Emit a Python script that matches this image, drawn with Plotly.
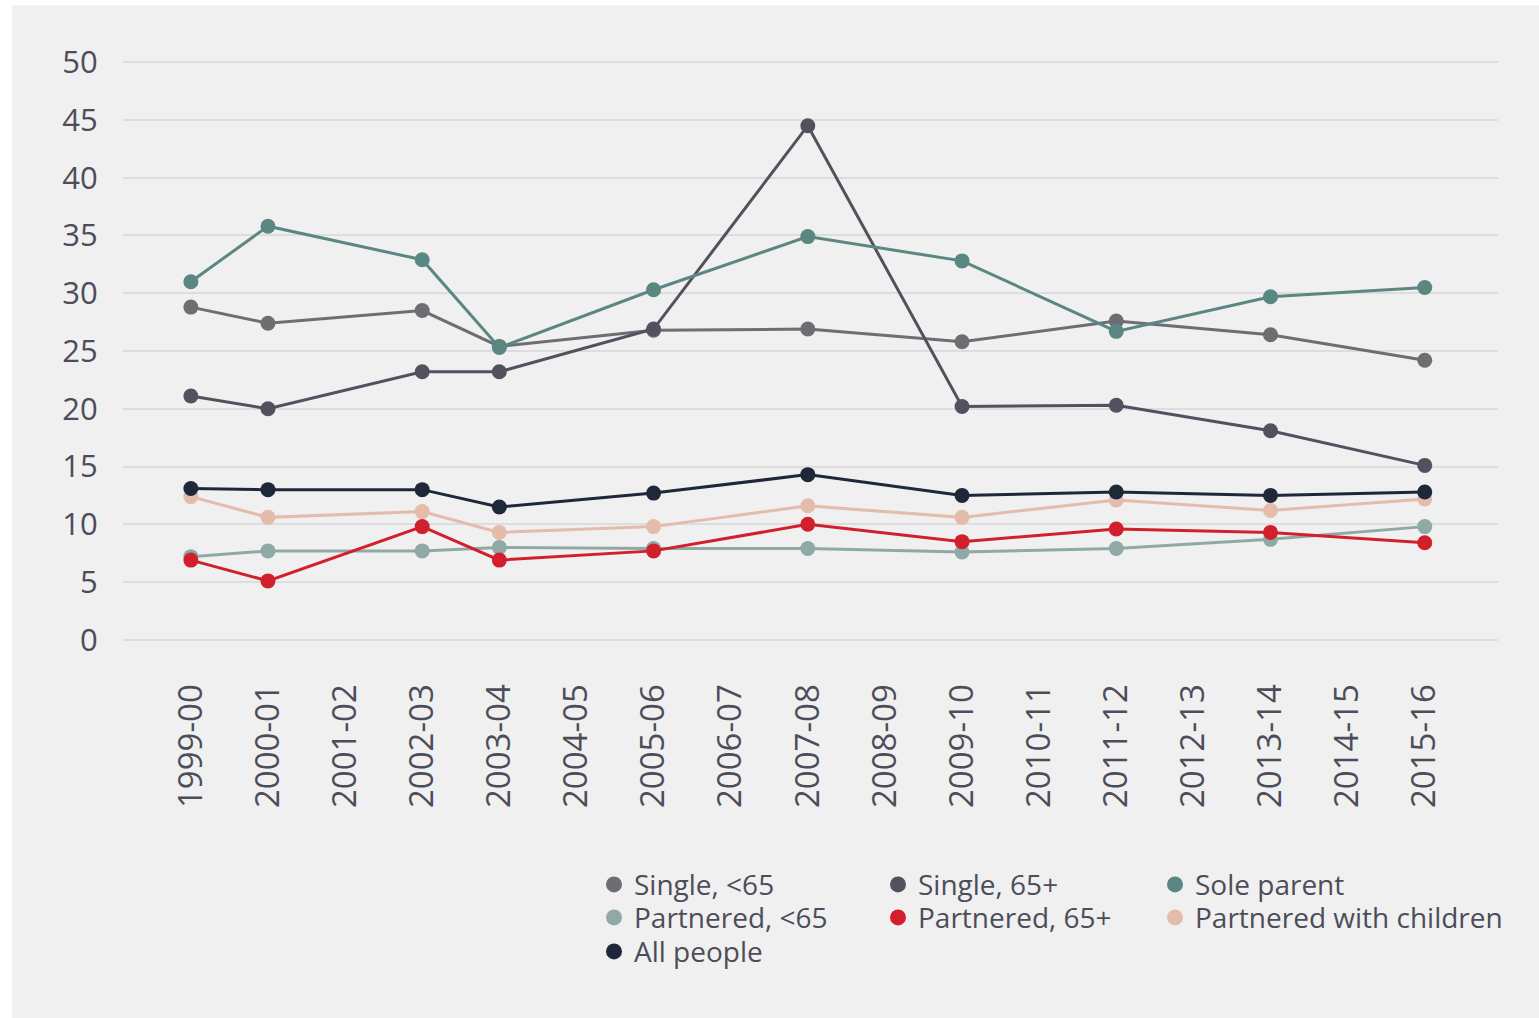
import plotly.graph_objects as go

categories = ["1999-00", "2000-01", "2001-02", "2002-03", "2003-04", "2004-05",
              "2005-06", "2006-07", "2007-08", "2008-09", "2009-10", "2010-11",
              "2011-12", "2012-13", "2013-14", "2014-15", "2015-16"]

single_u65 = [28.8, 27.4, None, 28.5, 25.4, None, 26.8, None, 26.9, None, 25.8, None, 27.6, None, 26.4, None, 24.2]
single_65p = [21.1, 20.0, None, 23.2, 23.2, None, 26.9, None, 44.5, None, 20.2, None, 20.3, None, 18.1, None, 15.1]
sole_parent = [31.0, 35.8, None, 32.9, 25.3, None, 30.3, None, 34.9, None, 32.8, None, 26.7, None, 29.7, None, 30.5]
partnered_u65 = [7.2, 7.7, None, 7.7, 8.0, None, 7.9, None, 7.9, None, 7.6, None, 7.9, None, 8.7, None, 9.8]
partnered_65p = [6.9, 5.1, None, 9.8, 6.9, None, 7.7, None, 10.0, None, 8.5, None, 9.6, None, 9.3, None, 8.4]
partnered_children = [12.4, 10.6, None, 11.1, 9.3, None, 9.8, None, 11.6, None, 10.6, None, 12.1, None, 11.2, None, 12.2]
all_people = [13.1, 13.0, None, 13.0, 11.5, None, 12.7, None, 14.3, None, 12.5, None, 12.8, None, 12.5, None, 12.8]

y_ticks = [0, 5, 10, 15, 20, 25, 30, 35, 40, 45, 50]

series = {
    "Single, <65": (single_u65, "#6d6d72"),
    "Single, 65+": (single_65p, "#52525f"),
    "Sole parent": (sole_parent, "#5b8783"),
    "Partnered, <65": (partnered_u65, "#8fa9a5"),
    "Partnered, 65+": (partnered_65p, "#d21f2c"),
    "Partnered with children": (partnered_children, "#e3bcac"),
    "All people": (all_people, "#1f2838"),
}
draw_order = ["Partnered, <65", "Partnered with children", "Partnered, 65+",
              "Single, <65", "Single, 65+", "Sole parent", "All people"]
# legend grid: (name, column, row)
legend_grid = [("Single, <65", 0, 0), ("Single, 65+", 1, 0), ("Sole parent", 2, 0),
               ("Partnered, <65", 0, 1), ("Partnered, 65+", 1, 1),
               ("Partnered with children", 2, 1), ("All people", 0, 2)]

FONT = "Open Sans"
TXT = "#4d4d5a"

fig = go.Figure()
for name in draw_order:
    vals, col = series[name]
    fig.add_trace(go.Scatter(
        x=categories, y=vals, name=name, mode="lines+markers",
        connectgaps=True, showlegend=False,
        line=dict(color=col, width=3),
        marker=dict(color=col, size=15),
        hoverinfo="x+y+name",
    ))

L, R = 123, 41
W, H = 1539, 1018
y_lo, y_hi = -0.1, 50.1
ppu = 578 / 50.0
top_px = 62 - (y_hi - 50) * ppu
bot_px = 640 + (0 - y_lo) * ppu
T = top_px
B = H - bot_px
pw = W - L - R
ph = bot_px - top_px

def px_x(p):
    return (p - L) / pw

def px_y(p):
    return (bot_px - p) / ph

fig.add_shape(type="rect", xref="paper", yref="paper",
              x0=px_x(12), x1=px_x(W + 5), y0=px_y(5), y1=px_y(H + 5),
              fillcolor="#f0f0f0", line=dict(width=0), layer="below")

col_left = [594, 878, 1155]
row_centers = [884, 917, 951]

legend_layout = {}
for i, (name, c, r) in enumerate(legend_grid):
    lid = "legend" if i == 0 else f"legend{i + 1}"
    vals, col = series[name]
    fig.add_trace(go.Scatter(
        x=[None], y=[None], name=name, mode="markers",
        marker=dict(color=col, size=18), showlegend=True, legend=lid,
    ))
    legend_layout[lid] = dict(
        orientation="h", x=px_x(col_left[c]), xanchor="left",
        y=px_y(row_centers[r] - 24), yanchor="top",
        font=dict(family=FONT, size=28, color=TXT),
        bgcolor="rgba(0,0,0,0)",
    )

fig.update_layout(
    width=W, height=H,
    margin=dict(l=L, r=R, t=T, b=B, autoexpand=False),
    paper_bgcolor="white",
    plot_bgcolor="#f0f0f0",
    font=dict(family=FONT, color=TXT),
    showlegend=True,
    xaxis=dict(
        type="category", categoryorder="array", categoryarray=categories,
        range=[-0.88, 16.95], showgrid=False, zeroline=False, showline=False,
        tickangle=-90, ticks="outside", ticklen=29, tickcolor="rgba(0,0,0,0)",
        tickfont=dict(family=FONT, size=33, color=TXT),
    ),
    yaxis=dict(
        range=[y_lo, y_hi], tickvals=y_ticks,
        showgrid=True, gridcolor="#dddddd", gridwidth=2,
        zeroline=False, showline=False,
        ticks="outside", ticklen=18, tickcolor="rgba(0,0,0,0)",
        tickfont=dict(family=FONT, size=31, color=TXT),
    ),
    **legend_layout,
)

fig.write_html("out.html", config={"displayModeBar": False},
               post_script="document.body.style.margin='0px';document.body.style.overflow='hidden';")
